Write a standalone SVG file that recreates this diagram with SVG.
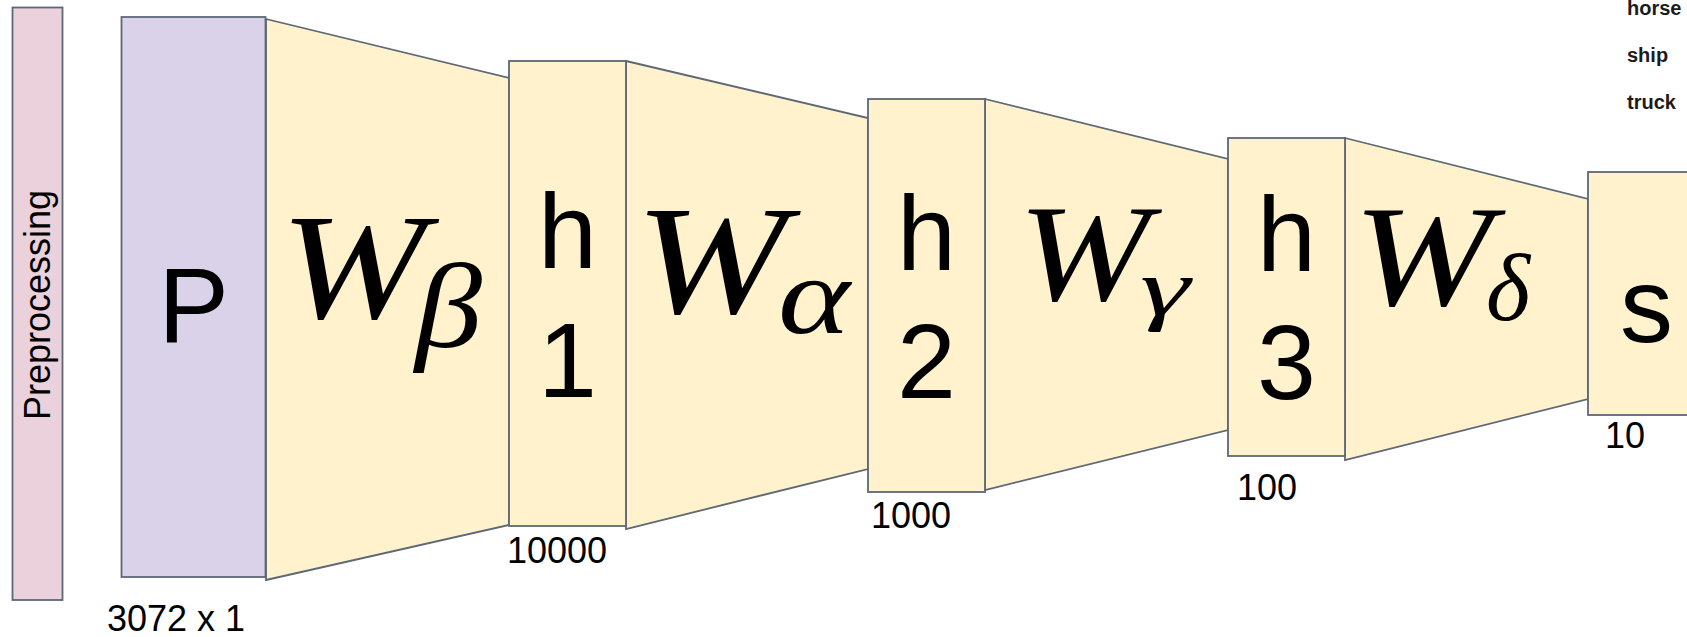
<svg xmlns="http://www.w3.org/2000/svg" width="1687" height="637" viewBox="0 0 1687 637">
<style>
.box{stroke:#5d6877;stroke-width:1.8}
.yel{fill:#fff2cc}
.lbl{font-family:"Liberation Sans",Arial,sans-serif;fill:#000}
.big{font-size:106px;text-anchor:middle}
.dim{font-size:36px}
.math{font-family:"Liberation Serif","Times New Roman",serif;font-style:italic;fill:#000}
.cls{font-family:"Liberation Sans",Arial,sans-serif;font-weight:bold;font-size:20px;fill:#1c1c1c}
</style>
<rect width="1687" height="637" fill="#ffffff"/>
<g id="preprocessing">
<rect class="box" x="12.5" y="7.5" width="50" height="592.5" fill="#ead1dc"/>
<text class="lbl" font-size="36" text-anchor="middle" transform="translate(50,305) rotate(-90)">Preprocessing</text>
</g>
<g id="connectors">
<g id="w-beta">
<polygon class="box yel" points="266,19 509,78 509,525 266,580"/>
<text class="math" x="280" y="318" font-size="150" textLength="146" lengthAdjust="spacingAndGlyphs">W</text>
<text class="math" x="415" y="347" font-size="120" textLength="67" lengthAdjust="spacingAndGlyphs">β</text>
</g>
<g id="w-alpha">
<polygon class="box yel" points="626,61 868,118 868,469 626,529"/>
<text class="math" x="635" y="313" font-size="155" textLength="152" lengthAdjust="spacingAndGlyphs">W</text>
<text class="math" x="778" y="333" font-size="111" textLength="72" lengthAdjust="spacingAndGlyphs">α</text>
</g>
<g id="w-gamma">
<polygon class="box yel" points="985,99 1228,159 1228,430 985,490"/>
<text class="math" x="1018" y="300" font-size="138" textLength="132" lengthAdjust="spacingAndGlyphs">W</text>
<text class="math" x="1140" y="315" font-size="81" textLength="50" lengthAdjust="spacingAndGlyphs">γ</text>
</g>
<g id="w-delta">
<polygon class="box yel" points="1345,138 1588,199 1588,399 1345,460"/>
<text class="math" x="1353" y="305" font-size="145" textLength="140" lengthAdjust="spacingAndGlyphs">W</text>
<text class="math" x="1486" y="320" font-size="95" textLength="44" lengthAdjust="spacingAndGlyphs">δ</text>
</g>
</g>
<g id="p">
<rect class="box" x="121.5" y="17" width="144" height="560" fill="#d9d2e9"/>
<text class="lbl big" x="193.5" y="342">P</text>
<text class="lbl dim" x="107" y="631">3072 x 1</text>
</g>
<g id="h1">
<rect class="box yel" x="509" y="61" width="117" height="465"/>
<text class="lbl big" x="567.5" y="268">h</text>
<text class="lbl big" x="567.5" y="397">1</text>
<text class="lbl dim" x="507" y="563">10000</text>
</g>
<g id="h2">
<rect class="box yel" x="868" y="99" width="117" height="393"/>
<text class="lbl big" x="926.5" y="270">h</text>
<text class="lbl big" x="926.5" y="398">2</text>
<text class="lbl dim" x="871" y="528">1000</text>
</g>
<g id="h3">
<rect class="box yel" x="1228" y="138" width="117" height="318"/>
<text class="lbl big" x="1286.5" y="271">h</text>
<text class="lbl big" x="1286.5" y="399">3</text>
<text class="lbl dim" x="1237" y="500">100</text>
</g>
<g id="s">
<rect class="box yel" x="1588" y="172" width="117" height="243"/>
<text class="lbl big" x="1646.5" y="342">s</text>
<text class="lbl dim" x="1605" y="448">10</text>
</g>
<g id="classes">
<text class="cls" x="1627" y="15">horse</text>
<text class="cls" x="1627" y="62">ship</text>
<text class="cls" x="1627" y="109">truck</text>
</g>
</svg>
